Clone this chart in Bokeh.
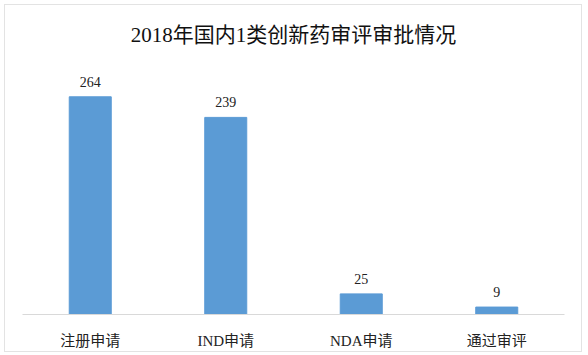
from bokeh.plotting import figure
from bokeh.models import ColumnDataSource, LabelSet
from bokeh.embed import file_html
from bokeh.resources import INLINE

categories = ["注册申请", "IND申请", "NDA申请", "通过审评"]
values = [264, 239, 25, 9]
title_text = "2018年国内1类创新药审评审批情况"

FONT = "Liberation Serif, Noto Sans CJK SC, serif"

src = ColumnDataSource(dict(cat=categories, val=values, lab=[str(v) for v in values]))

p = figure(x_range=categories, y_range=(0, 308), width=576, height=346,
           output_backend="svg", toolbar_location=None,
           min_border_left=17, min_border_right=19, min_border_top=55, min_border_bottom=39)
p.styles = {"border": "1px solid #e3e3e3", "margin-left": "4px", "margin-top": "4px",
            "box-sizing": "content-box"}

p.title.text = title_text
p.title.align = "center"
p.title.text_font = FONT
p.title.text_font_size = "21px"
p.title.text_font_style = "normal"
p.title.text_color = "#111111"
p.title.standoff = 27

p.vbar(x="cat", top="val", width=0.31, source=src, color="#5b9bd5")

labels = LabelSet(x="cat", y="val", text="lab", source=src, text_align="center",
                  text_baseline="bottom", y_offset=10, text_font_size="14px",
                  text_font=FONT, text_color="#222222")
p.add_layout(labels)

p.yaxis.visible = False
p.xgrid.grid_line_color = None
p.ygrid.grid_line_color = None
p.outline_line_color = None
p.xaxis.axis_line_color = "#d9d9d9"
p.xaxis.major_tick_line_color = None
p.xaxis.minor_tick_line_color = None
p.xaxis.major_label_text_font = FONT
p.xaxis.major_label_text_font_size = "15px"
p.xaxis.major_label_text_color = "#222222"
p.xaxis.major_label_standoff = 12
p.x_range.range_padding = 0

open("out.html", "w").write(file_html(p, INLINE))
